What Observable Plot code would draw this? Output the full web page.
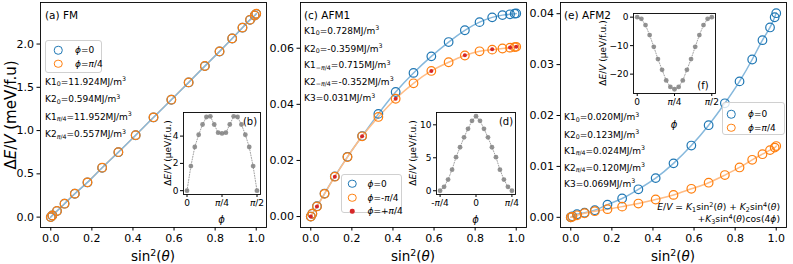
<!DOCTYPE html>
<html><head><meta charset="utf-8">
<script src="https://cdn.jsdelivr.net/npm/d3@7"></script>
<script src="https://cdn.jsdelivr.net/npm/@observablehq/plot@0.6"></script>
<style>
body{margin:0;background:#fff;}
#fig{position:relative;width:793px;height:264px;font-family:"DejaVu Sans",sans-serif;color:#000;overflow:hidden;}
#fig svg{position:absolute;overflow:visible;}
.abs{position:absolute;white-space:nowrap;line-height:1;}
.ann{font-size:9px;}
.ttl{font-size:10.5px;}
sub,sup{font-size:70%;line-height:0;position:relative;vertical-align:baseline;}
sub{top:0.3em;} sup{top:-0.5em;}
.rot{transform:translate(-50%,-50%) rotate(-90deg);}
.ctr{transform:translate(-50%,-50%);}
.leg{position:absolute;border:1px solid #d0d0d0;border-radius:3px;background:rgba(255,255,255,0.8);box-sizing:border-box;}
.mk{position:absolute;width:8.5px;height:8.5px;border-radius:50%;box-sizing:border-box;transform:translate(-50%,-50%);}
.lt{position:absolute;font-size:9px;line-height:1;white-space:nowrap;transform:translateY(-50%);}
</style></head>
<body>
<div id="fig"></div>
<script>
// ---------------- data ----------------
const sin2theta = [0, 0.0076, 0.0302, 0.0670, 0.1170, 0.1786, 0.25, 0.3290, 0.4132, 0.5, 0.5868, 0.6710, 0.75, 0.8214, 0.8830, 0.9330, 0.9698, 0.9924, 1.0];
// (a) FM, meV/f.u.
const fmPhi0   = [0, 0.019, 0.070, 0.155, 0.270, 0.401, 0.570, 0.750, 0.946, 1.152, 1.356, 1.556, 1.745, 1.914, 2.064, 2.189, 2.279, 2.329, 2.349];
const fmPhiPi4 = [0, 0.020, 0.071, 0.155, 0.271, 0.402, 0.571, 0.751, 0.947, 1.153, 1.357, 1.557, 1.746, 1.915, 2.065, 2.190, 2.280, 2.330, 2.350];
// (c) AFM1
const afm1Phi0       = [0, 0.0010, 0.0037, 0.0082, 0.0143, 0.0213, 0.0287, 0.0366, 0.0444, 0.0512, 0.0571, 0.0622, 0.0664, 0.0693, 0.0710, 0.0718, 0.0721, 0.0723, 0.0724];
const afm1PhiMinusPi4= [0, 0.0010, 0.0036, 0.0081, 0.0142, 0.0212, 0.0286, 0.0355, 0.0420, 0.0475, 0.0519, 0.0550, 0.0574, 0.0589, 0.0595, 0.0599, 0.0602, 0.0604, 0.0605];
const afm1PlusX      = [0, 0.0302, 0.1170, 0.25, 0.4132, 0.5868, 0.75, 0.8830, 0.9698, 1.0];
const afm1PhiPlusPi4 = [0, 0.0036, 0.0142, 0.0286, 0.0420, 0.0519, 0.0575, 0.0596, 0.0603, 0.0605];
// (e) AFM2
const afm2Phi0   = [0, 0.0002, 0.0006, 0.0009, 0.0014, 0.0025, 0.0037, 0.0055, 0.0077, 0.0106, 0.0141, 0.0181, 0.0224, 0.0267, 0.0310, 0.0348, 0.0373, 0.0393, 0.0401];
const afm2PhiPi4 = [0, 0.0001, 0.0004, 0.0008, 0.0012, 0.0016, 0.0021, 0.0027, 0.0035, 0.0044, 0.0056, 0.0068, 0.0083, 0.0098, 0.0113, 0.0124, 0.0132, 0.0137, 0.0140];
// insets (phi in degrees, µeV/f.u.)
const phiB   = [0,5,10,15,20,25,30,35,40,45,50,55,60,65,70,75,80,85,90];
const insetB = [0, 1.8, 3.2, 4.1, 4.85, 5.4, 5.45, 4.85, 4.25, 4.2, 4.25, 4.85, 5.45, 5.4, 4.85, 4.1, 3.2, 1.8, 0];
const phiD   = [-45,-40,-35,-30,-25,-20,-15,-10,-5,0,5,10,15,20,25,30,35,40,45];
const insetD = [0, 0.6, 1.7, 3.2, 5.1, 6.6, 8.1, 9.4, 10.6, 11.3, 10.6, 9.4, 8.1, 6.6, 5.1, 3.2, 1.7, 0.6, 0];
const phiF   = [0,5,10,15,20,25,30,35,40,45,50,55,60,65,70,75,80,85,90];
const insetF = [0, -0.6, -2.8, -6.3, -10.4, -14.7, -18.5, -22.2, -24.5, -25.3, -24.5, -22.2, -18.5, -14.7, -10.4, -6.3, -2.8, -0.6, 0];
// ticks
const xTicks = [0, 0.2, 0.4, 0.6, 0.8, 1.0];
const fmYTicks = [0, 0.5, 1.0, 1.5, 2.0];
const afm1YTicks = [0, 0.02, 0.04, 0.06];
const afm2YTicks = [0, 0.01, 0.02, 0.03, 0.04];
const phiTicks90 = [0, 45, 90], phiTickLabels90 = ["0", "π/4", "π/2"];
const phiTicks45 = [-45, 0, 45], phiTickLabels45 = ["-π/4", "0", "π/4"];
const insetBTicks = [0, 2, 4], insetDTicks = [0, 5, 10], insetFTicks = [0, -10, -20];

const C0 = "#1f77b4", C1 = "#ff7f0e", C3 = "#d62728";
const C0L = "#86b8dc", C1L = "#ffbc85";
const fig = document.getElementById("fig");

function italicPi(svg){
  d3.select(svg).selectAll("text").each(function(){
    const t = this.textContent;
    if (t.includes("π") && this.children.length === 0) {
      const parts = t.split("π"); const sel = d3.select(this); sel.text(null);
      parts.forEach((p,i)=>{ if(i>0) sel.append("tspan").attr("font-style","italic").text("π"); if(p) sel.append("tspan").text(p); });
    }
  });
}
function place(svg, left, top){ svg.style.left = left+"px"; svg.style.top = top+"px"; fig.appendChild(svg); italicPi(svg); }

const baseStyle = {fontFamily:"DejaVu Sans", fontSize:"11px", background:"transparent", color:"black", overflow:"visible"};

function mainPanel({left, width, mL, mR, yDomain, yTicks, yFmt, marks}){
  const svg = Plot.plot({
    width, height:264, marginLeft:mL, marginRight:mR, marginTop:2, marginBottom:37,
    style: baseStyle,
    x:{domain:[-0.05,1.05], ticks:xTicks, tickFormat:d3.format(".1f"), label:null, tickSize:3.5, tickPadding:3},
    y:{domain:yDomain, ticks:yTicks, tickFormat:d3.format(yFmt), label:null, tickSize:3.5, tickPadding:3},
    marks:[...marks, Plot.frame({stroke:"black", strokeWidth:0.9})]
  });
  place(svg, left, 0);
}
const line = (x, y, c) => Plot.line(x.map((v,i)=>({x:v,y:y[i]})), {x:"x", y:"y", stroke:c, strokeWidth:1.5, curve:"natural"});
const ring = (x, y, c) => Plot.dot(x.map((v,i)=>({x:v,y:y[i]})), {x:"x", y:"y", r:4.3, stroke:c, strokeWidth:1.2, fill:"none"});

// (a)
mainPanel({left:0, width:270, mL:40, mR:4, yDomain:[-0.12,2.48], yTicks:fmYTicks, yFmt:".1f",
  marks:[line(sin2theta, fmPhiPi4, C1L), line(sin2theta, fmPhi0, C0L), ring(sin2theta, fmPhi0, C0), ring(sin2theta, fmPhiPi4, C1)]});
// (c)
mainPanel({left:268, width:262, mL:32, mR:4, yDomain:[-0.0039,0.0763], yTicks:afm1YTicks, yFmt:".2f",
  marks:[line(sin2theta, afm1Phi0, C0L), line(sin2theta, afm1PhiMinusPi4, C1L), ring(sin2theta, afm1Phi0, C0), ring(sin2theta, afm1PhiMinusPi4, C1),
    Plot.dot(afm1PlusX.map((v,i)=>({x:v,y:afm1PhiPlusPi4[i]})), {x:"x", y:"y", r:2, fill:C3})]});
// (e)
mainPanel({left:528, width:265, mL:32, mR:7, yDomain:[-0.002,0.0422], yTicks:afm2YTicks, yFmt:".2f",
  marks:[line(sin2theta, afm2Phi0, C0L), line(sin2theta, afm2PhiPi4, C1L), ring(sin2theta, afm2Phi0, C0), ring(sin2theta, afm2PhiPi4, C1)]});

function inset({left, top, width, height, mL, mT, xDomain, xTicks, xLabels, yDomain, yTicks, phi, vals}){
  const data = phi.map((p,i)=>({x:p, y:vals[i]}));
  const svg = Plot.plot({
    width, height, marginLeft:mL, marginRight:5, marginTop:mT, marginBottom:40,
    style:{...baseStyle, fontSize:"9px"},
    x:{domain:xDomain, ticks:xTicks, tickFormat:(d)=>xLabels[xTicks.indexOf(d)], label:null, tickSize:3, tickPadding:2},
    y:{domain:yDomain, ticks:yTicks, tickFormat:(d)=>String(d).replace("-","−"), label:null, tickSize:3, tickPadding:2},
    marks:[Plot.frame({fill:"white"}),
      Plot.line(data, {x:"x", y:"y", stroke:"#a0a0a0", strokeWidth:1, strokeDasharray:"1,1.6"}),
      Plot.dot(data, {x:"x", y:"y", r:2.4, fill:"#808080", fillOpacity:0.85}),
      Plot.frame({stroke:"black", strokeWidth:0.9})]
  });
  place(svg, left, top);
}
inset({left:148, top:100, width:117, height:134, mL:35, mT:12, xDomain:[-4.5,94.5], xTicks:phiTicks90, xLabels:phiTickLabels90, yDomain:[-0.28,5.73], yTicks:insetBTicks, phi:phiB, vals:insetB});
inset({left:396, top:100, width:124, height:134, mL:40, mT:12, xDomain:[-49.5,49.5], xTicks:phiTicks45, xLabels:phiTickLabels45, yDomain:[-0.57,11.87], yTicks:insetDTicks, phi:phiD, vals:insetD});
inset({left:588, top:0, width:132, height:133, mL:45, mT:13, xDomain:[-4.5,94.5], xTicks:phiTicks90, xLabels:phiTickLabels90, yDomain:[-26.8,1.28], yTicks:insetFTicks, phi:phiF, vals:insetF});

// ---------------- text overlays ----------------
function html(s){ const d=document.createElement("div"); d.innerHTML=s.trim(); const el=d.firstChild; fig.appendChild(el); return el; }
// axis titles
[153, 413, 673].forEach(cx => html(`<div class="abs ctr" style="left:${cx}px;top:257px;font-size:13.5px">sin<sup>2</sup>(<i>θ</i>)</div>`));
html(`<div class="abs rot" style="left:11px;top:115px;font-size:15px">Δ<i>E</i>/<i>V</i> (meV/f.u)</div>`);
// inset axis titles
const yl = "Δ<i>E</i>/<i>V</i> (μeV/f.u.)";
html(`<div class="abs rot" style="left:168px;top:153px;font-size:9px">${yl}</div>`);
html(`<div class="abs rot" style="left:413px;top:153px;font-size:9px">${yl}</div>`);
html(`<div class="abs rot" style="left:603px;top:53px;font-size:9px">${yl}</div>`);
html(`<div class="abs ctr" style="left:221.5px;top:220px;font-size:10px"><i>ϕ</i></div>`);
html(`<div class="abs ctr" style="left:475.5px;top:220px;font-size:10px"><i>ϕ</i></div>`);
html(`<div class="abs ctr" style="left:674px;top:125px;font-size:10px"><i>ϕ</i></div>`);
html(`<div class="abs ctr" style="left:250px;top:122px;font-size:10px">(b)</div>`);
html(`<div class="abs ctr" style="left:506px;top:122px;font-size:10px">(d)</div>`);
html(`<div class="abs ctr" style="left:703px;top:86px;font-size:10px">(f)</div>`);
// panel titles
html(`<div class="abs ttl" style="left:45px;top:10px">(a) FM</div>`);
html(`<div class="abs ttl" style="left:304px;top:10px">(c) AFM1</div>`);
html(`<div class="abs ttl" style="left:564px;top:10px">(e) AFM2</div>`);
// K annotations
function klines(left, centers, lines){ lines.forEach((s,i)=>html(`<div class="abs ann" style="left:${left}px;top:${centers[i]-4.5}px">${s}</div>`)); }
const MJ = "MJ/m<sup>3</sup>", P4 = "<i>π</i>/4";
klines(45, [82, 99.5, 117, 134.5], [
  `K1<sub>0</sub>=11.924${MJ}`, `K2<sub>0</sub>=0.594${MJ}`, `K1<sub>${P4}</sub>=11.952${MJ}`, `K2<sub>${P4}</sub>=0.557${MJ}`]);
klines(304, [31, 49, 65.5, 82, 98.5], [
  `K1<sub>0</sub>=0.728${MJ}`, `K2<sub>0</sub>=-0.359${MJ}`, `K1<sub>−${P4}</sub>=0.715${MJ}`, `K2<sub>−${P4}</sub>=-0.352${MJ}`, `K3=0.031${MJ}`]);
klines(564, [117.5, 135, 151, 168, 184], [
  `K1<sub>0</sub>=0.020${MJ}`, `K2<sub>0</sub>=0.123${MJ}`, `K1<sub>${P4}</sub>=0.024${MJ}`, `K2<sub>${P4}</sub>=0.120${MJ}`, `K3=0.069${MJ}`]);
// formula
html(`<div class="abs ann" style="right:13px;top:202px;text-align:right;font-size:9.2px"><i>E</i>/<i>V</i> = <i>K</i><sub>1</sub>sin<sup>2</sup>(<i>θ</i>) + <i>K</i><sub>2</sub>sin<sup>4</sup>(<i>θ</i>)</div>`);
html(`<div class="abs ann" style="right:13px;top:214px;text-align:right;font-size:9.2px">+<i>K</i><sub>3</sub>sin<sup>4</sup>(<i>θ</i>)cos(4<i>ϕ</i>)</div>`);
// legends
function legend(left, top, w, h, mx, lx, rows){
  const box = html(`<div class="leg" style="left:${left}px;top:${top}px;width:${w}px;height:${h}px"></div>`);
  rows.forEach(r=>{
    const mk = r.filled ? `background:${r.c};width:4.5px;height:4.5px;` : `border:1.2px solid ${r.c};`;
    box.insertAdjacentHTML("beforeend", `<div class="mk" style="left:${mx}px;top:${r.y}px;${mk}"></div><div class="lt" style="left:${lx}px;top:${r.y}px">${r.t}</div>`);
  });
}
const PHI = "<i>ϕ</i>";
legend(45, 40, 57, 33, 12, 29, [{y:9, c:C0, t:`${PHI}=0`}, {y:22.5, c:C1, t:`${PHI}=${P4}`}]);
legend(341, 174, 61, 39, 10, 25.5, [{y:8.5, c:C0, t:`${PHI}=0`}, {y:22.5, c:C1, t:`${PHI}=-${P4}`}, {y:36, c:C3, t:`${PHI}=+${P4}`, filled:true}]);
legend(722, 102, 63, 33, 8, 25, [{y:11, c:C0, t:`${PHI}=0`}, {y:24.5, c:C1, t:`${PHI}=${P4}`}]);
</script>
</body></html>
